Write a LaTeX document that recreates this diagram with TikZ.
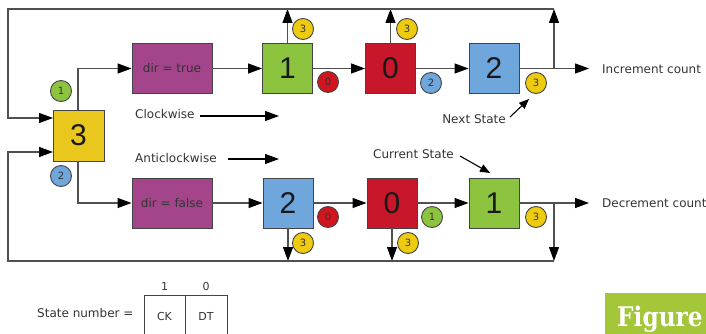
\documentclass[tikz,border=0pt]{standalone}
\usepackage{fontspec}
\setmainfont{DejaVu Sans}
\newfontfamily\digitfont{Liberation Sans}
\newfontfamily\figfont{DejaVu Serif}
\usetikzlibrary{arrows.meta}
\definecolor{boxline}{HTML}{444444}
\definecolor{wirecol}{HTML}{505050}
\definecolor{yel}{HTML}{E9C71C}
\definecolor{grn}{HTML}{8DC43F}
\definecolor{rd}{HTML}{C8162A}
\definecolor{blu}{HTML}{6FA6DC}
\definecolor{purp}{HTML}{A4458C}
\definecolor{cyel}{HTML}{EFCB10}
\definecolor{crd}{HTML}{D0151F}
\definecolor{figgreen}{HTML}{A4C639}
\tikzset{
  stbox/.style={draw=boxline, line width=0.9pt, minimum width=50pt, minimum height=50pt, inner sep=0pt, text=black!90, font=\digitfont\fontsize{30}{30}\selectfont},
  dirbox/.style={draw=boxline, line width=0.9pt, fill=purp, minimum width=80pt, minimum height=50pt, inner sep=0pt, text=black!80, font=\fontsize{12}{14}\selectfont},
  badge/.style={circle, draw=boxline, line width=0.9pt, minimum size=21pt, inner sep=0pt, text=black!80, font=\fontsize{10}{10}\selectfont},
  wire/.style={draw=wirecol, line width=1.2pt},
  arr/.style={wire, -{Triangle[length=14pt,width=10pt,fill=black,color=black]}},
  pointer/.style={draw=black, line width=1.1pt, -{Triangle[length=10pt,width=8pt]}},
  lbl/.style={inner sep=0pt, text=black!80, font=\fontsize{12}{14}\selectfont},
}
\begin{document}
\begin{tikzpicture}[x=1pt,y=-1pt]
\useasboundingbox (0,0) rectangle (706,334);
% state boxes
\node[stbox, fill=yel, minimum width=51pt, minimum height=51pt] (b3) at (78.5,135.5) {3};
\node[dirbox] (dirT) at (172,68.5) {dir = true};
\node[dirbox] (dirF) at (172,203) {dir = false};
\node[stbox, fill=grn] (t1) at (287.5,68.5) {1};
\node[stbox, fill=rd] (t0) at (390.5,68.5) {0};
\node[stbox, fill=blu] (t2) at (494,68.5) {2};
\node[stbox, fill=blu] (bo2) at (288,203) {2};
\node[stbox, fill=rd] (bo0) at (392,203) {0};
\node[stbox, fill=grn] (bo1) at (494,203) {1};
% badges
\node[badge, fill=grn] (c1) at (61,91) {1};
\node[badge, fill=blu] (c2) at (61,176) {2};
\node[badge, fill=cyel] (ct1a) at (303,29) {3};
\node[badge, fill=crd] (ct1b) at (328,82) {0};
\node[badge, fill=cyel] (ct0a) at (407,29) {3};
\node[badge, fill=blu] (ct0b) at (431,83) {2};
\node[badge, fill=cyel] (ct2) at (536,83) {3};
\node[badge, fill=crd] (cb2a) at (328,217) {0};
\node[badge, fill=cyel] (cb2b) at (303,243) {3};
\node[badge, fill=grn] (cb0a) at (432,217) {1};
\node[badge, fill=cyel] (cb0b) at (408,243) {3};
\node[badge, fill=cyel] (cb1) at (536,217) {3};
% coordinates
\coordinate (tl) at (8,9);
\coordinate (tr) at (554,9);
\coordinate (bl) at (8,261);
\coordinate (br) at (554,261);
\coordinate (in1) at (53,118);
\coordinate (in2) at (53,152);
\coordinate (incend) at (589,68.5);
\coordinate (decend) at (589,203);
% connectors from 3
\draw[arr] (b3.north -| 78,0) -- (78,68.5) -- (dirT.west);
\draw[arr] (b3.south -| 78,0) -- (78,203) -- (dirF.west);
% top row
\draw[arr] (dirT) -- (t1);
\draw[arr] (t1) -- (t0);
\draw[arr] (t0) -- (t2);
\draw[arr] (t2.east) -- (incend);
\draw[arr] (t1.north) -- (t1.north |- tl);
\draw[arr] (t0.north) -- (t0.north |- tl);
\draw[arr] (t2.east -| tr) -- (tr);
\draw[arr] (tr) -- (tl) -- (tl |- in1) -- (in1);
% bottom row
\draw[arr] (dirF) -- (bo2);
\draw[arr] (bo2) -- (bo0);
\draw[arr] (bo0) -- (bo1);
\draw[arr] (bo1.east) -- (decend);
\draw[arr] (bo2.south) -- (bo2.south |- bl);
\draw[arr] (bo0.south) -- (bo0.south |- bl);
\draw[arr] (bo1.east -| br) -- (br);
\draw[arr] (br) -- (bl) -- (bl |- in2) -- (in2);
% labels
\node[lbl, anchor=west] (inc) at (602,69) {Increment count};
\node[lbl, anchor=west] (dec) at (602,203.5) {Decrement count};
\node[lbl, anchor=west] (cw) at (135,114) {Clockwise};
\coordinate (cwa) at (200,116);
\coordinate (cwb) at (279,116);
\draw[arr, draw=black] (cwa) -- (cwb);
\node[lbl, anchor=west] (acw) at (135,158) {Anticlockwise};
\coordinate (acwa) at (228,159);
\coordinate (acwb) at (279,159);
\draw[arr, draw=black] (acwa) -- (acwb);
\node[lbl, anchor=east] (ns) at (506,119) {Next State};
\coordinate (nsa) at (510,117);
\coordinate (nsb) at (529,99);
\draw[pointer] (nsa) -- (nsb);
\node[lbl, anchor=west] (cs) at (373,154) {Current State};
\coordinate (csa) at (460,156);
\coordinate (csb) at (490,173);
\draw[pointer] (csa) -- (csb);
% state number table
\node[lbl, anchor=west] (sn) at (37,313) {State number =};
\draw[draw=boxline, line width=0.9pt] (144,336) -- (144,295) -- (227,295) -- (227,336);
\draw[draw=boxline, line width=0.9pt] (185,295) -- (185,336);
\node[lbl, font=\fontsize{11}{12}\selectfont] (b1) at (164.5,286) {1};
\node[lbl, font=\fontsize{11}{12}\selectfont] (b0) at (206,286) {0};
\node[lbl, font=\fontsize{11}{12}\selectfont] (ck) at (164.5,316) {CK};
\node[lbl, font=\fontsize{11}{12}\selectfont] (dt) at (206,316) {DT};
% Figure tag
\fill[figgreen] (605,293) rectangle (706,334);
\node[anchor=base west, inner sep=0pt, text=white, font=\figfont\bfseries\fontsize{27}{27}\selectfont] (fig) at (617,326) {\scalebox{0.86}[1]{Figure}};
\end{tikzpicture}
\end{document}
